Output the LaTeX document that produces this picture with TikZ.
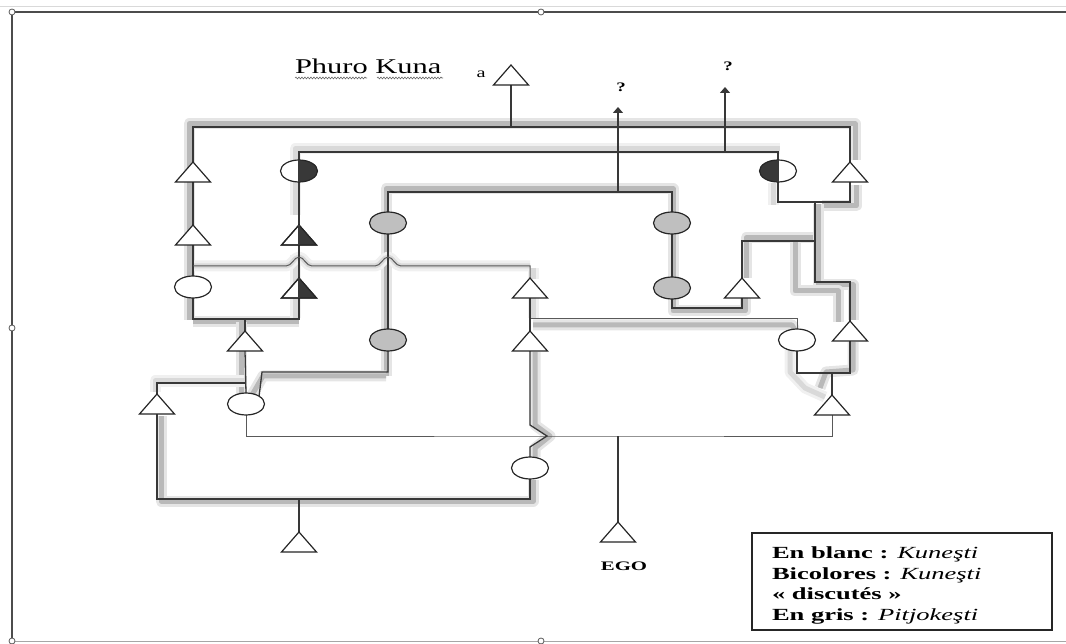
\documentclass[tikz,border=0pt]{standalone}
\usepackage{fontspec}
\setmainfont{Liberation Serif}
\usepackage{graphicx}
\usetikzlibrary{shapes.geometric,arrows.meta,decorations.pathmorphing}
\pgfdeclarelayer{hlayer}
\pgfdeclarelayer{llayer}
\pgfsetlayers{hlayer,llayer,main}
\newcommand\stxt[3][1.45]{\scalebox{#1}[1]{\fontsize{#2}{#2}\selectfont #3}}
\tikzset{
 ln/.style={draw=black!78, line width=1.3pt},
 lnthin/.style={draw=black!65, line width=1pt},
 hl/.style={preaction={draw=gray!20, line width=11pt, line join=round}, draw=gray!55, line width=5pt, line join=round},
 hlx/.style={preaction={draw=gray!12, line width=11pt, line join=round}, draw=gray!30, line width=5pt, line join=round},
 tri/.style={rectangle, minimum width=35pt, minimum height=20pt, inner sep=0pt, outer sep=0pt},
 triline/.style={draw=black!85, line width=1.2pt, fill=white, line join=miter},
 ell/.style={ellipse, draw=black!85, line width=1.2pt, fill=white, minimum width=37pt, minimum height=22pt, inner sep=0pt, outer sep=0pt},
 gell/.style={ell, fill=gray!50},
 bicR/.style={ell, path picture={\fill[black!78] (path picture bounding box.north) rectangle (path picture bounding box.south east);}},
 bicL/.style={ell, path picture={\fill[black!78] (path picture bounding box.north) rectangle (path picture bounding box.south west);}},
 arr/.style={ln, -{Triangle[length=6pt,width=10pt]}},
 lab/.style={inner sep=0pt, outer sep=0pt, anchor=base},
 frameline/.style={draw=black!70, line width=1.2pt},
 handle/.style={draw=black!65, line width=0.8pt, fill=white},
 squiggle/.style={decorate, decoration={snake, amplitude=0.9pt, segment length=3pt}, draw=black!60, line width=0.6pt},
}
\begin{document}
\begin{tikzpicture}[x=1pt,y=-1pt]
\useasboundingbox (0,0) rectangle (1066,644);
% frame
\draw[draw=black!15, line width=0.8pt] (0,6) -- (1066,6);
\draw[frameline] (12,12) -- (1066,12);
\draw[frameline] (12,12) -- (12,644);
\draw[draw=black!35, line width=0.8pt] (12,641) -- (1066,641);
\foreach \p in {(12,12),(541,12),(12,328),(12,641),(541,641)}
  \draw[handle] \p circle[radius=3pt];

% title and labels
\node[lab, anchor=base west] (title) at (295,74) {\stxt{21}{Phuro Kuna}};
\draw[squiggle] (295,78) -- (367,78);
\draw[squiggle] (377,78) -- (443,78);
\node[lab] (alab) at (481,78) {\stxt{14}{a}};
\node[lab] (q1lab) at (621,92) {\stxt{13}{\textbf{?}}};
\node[lab] (q2lab) at (728,71) {\stxt{13}{\textbf{?}}};
\node[lab] (ego) at (624,570) {\stxt[1.6]{13}{\textbf{EGO}}};

% legend
\node[draw=black!85, line width=1.3pt, minimum width=300pt, minimum height=97pt, inner sep=0pt] (legend) at (902,581.5) {};
\node[lab, anchor=base west] (leg1) at (772,558) {\stxt[1.56]{17}{\textbf{En blanc :} \textit{Kuneşti}}};
\node[lab, anchor=base west] (leg2) at (772,579) {\stxt[1.56]{17}{\textbf{Bicolores :} \textit{Kuneşti}}};
\node[lab, anchor=base west] (leg3) at (772,599) {\stxt[1.56]{17}{\textbf{« discutés »}}};
\node[lab, anchor=base west] (leg4) at (772,620) {\stxt[1.56]{17}{\textbf{En gris :} \textit{Pitjokeşti}}};

% individuals
\node[tri] (ta) at (511,75) {};
\node[tri] (tL1) at (193,172) {};
\node[tri] (tL2) at (193,235) {};
\node[ell] (eL) at (193,287) {};
\node[tri] (tB1) at (299,235) {};
\node[tri] (tB2) at (299,288) {};
\node[bicR] (cB1) at (299,171) {};
\node[bicL] (cB2) at (778,171) {};
\node[gell] (gE1) at (388,223) {};
\node[gell] (gE2) at (388,340) {};
\node[gell] (gE3) at (672,223) {};
\node[gell] (gE4) at (672,288) {};
\node[tri] (t742) at (742,288) {};
\node[tri] (tR1) at (850,172) {};
\node[tri] (tR2) at (850,331) {};
\node[ell] (eR) at (797,340) {};
\node[tri] (tR3) at (832,405) {};
\node[tri] (t530a) at (530,288) {};
\node[tri] (t530b) at (530,341) {};
\node[tri] (t245) at (245,341) {};
\node[tri] (t157) at (157,404) {};
\node[ell] (e246) at (246,404) {};
\node[ell] (e530) at (530,468) {};
\node[tri] (t299b) at (299,542) {};
\node[tri] (tEGO) at (618,532) {};

\foreach \n in {ta,tL1,tL2,t742,tR1,tR2,tR3,t530a,t530b,t245,t157,t299b,tEGO,tB1,tB2}
  \draw[triline] (\n.south west) -- (\n.south east) -- (\n.north) -- cycle;
\foreach \n in {tB1,tB2}{
  \fill[black!78] (\n.north) -- (\n.south east) -- (\n.south) -- cycle;
  \draw[triline, fill=none] (\n.south west) -- (\n.south east) -- (\n.north) -- cycle;
  \draw[ln] (\n.north) -- (\n.south);
}
\draw[ln] (cB1.north) -- (cB1.south);
\draw[ln] (cB2.north) -- (cB2.south);

% junctions
\coordinate (top) at (511,127);
\coordinate (b2) at (725,152);
\coordinate (b3) at (618,192);
\coordinate (q1) at (618,107);
\coordinate (q2) at (725,87);
\coordinate (j1) at (245,319);
\coordinate (k1) at (262,372);
\coordinate (k2) at (707,308);
\coordinate (j2) at (815,202);
\coordinate (j3) at (815,282);
\coordinate (j4) at (815,241);
\coordinate (j5) at (832,373);
\coordinate (j6) at (530,319);
\coordinate (j7) at (245,383);
\coordinate (j8) at (618,436);
\coordinate (j9) at (299,499);
\coordinate (w0) at (193,266);

% grey highlights
\begin{pgfonlayer}{hlayer}
\draw[hl] (189,320) -- (189,124) -- (855,124) -- (855,160);
\draw[hl] (856,185) -- (856,206) -- (822,206);
\draw[hl] (193,322) -- (299,322);
\draw[hl] (241,322) -- (241,395);
\draw[hlx] (245,381) -- (155,381) -- (155,392);
\draw[hl] (161,416) -- (161,501) -- (533,501) -- (533,480);
\draw[hl] (535,352) -- (535,425) -- (550,436) -- (535,448) -- (535,457);
\draw[hl] (386,376) -- (386,189) -- (673,189) -- (673,311) -- (745,311) -- (745,298);
\draw[hl] (386,376) -- (263,376) -- (252,395);
\draw[hl] (746,278) -- (746,238) -- (818,238);
\draw[hl] (818,204) -- (818,285) -- (853,285) -- (853,320);
\draw[hl] (795,240) -- (795,291) -- (838,291) -- (838,322);
\draw[hl] (533,325) -- (792,325) -- (795,330);
\draw[hl] (853,342) -- (853,370) -- (826,372) -- (820,388);
\draw[hlx] (295,215) -- (295,149) -- (780,149);
\draw[hlx] (295,255) -- (295,318);
\draw[hlx] (773,183) -- (773,205);
\draw[hlx] (533,268) -- (533,279);
\draw[hlx] (533,298) -- (533,318);
\draw[hlx] (790,350) -- (790,372) -- (805,388) -- (825,397);
\draw[hlx] (193,266) -- (286,266) .. controls (292,266) and (294,257) .. (299,257) .. controls (304,257) and (306,266) .. (312,266) -- (375,266) .. controls (381,266) and (383,257) .. (388,257) .. controls (393,257) and (395,266) .. (401,266) -- (530,266);
\end{pgfonlayer}

% connectors
\begin{pgfonlayer}{llayer}
\draw[ln] (tL1.north) |- (top) -| (tR1.north);
\draw[ln] (ta.south) -- (top);
\draw[ln] (tL1.south) -- (tL2.north);
\draw[ln] (tL2.south) -- (eL.north);
\draw[ln] (eL.south) |- (j1) -| (tB2.south);
\draw[ln] (cB1.north) |- (b2) -| (cB2.north);
\draw[ln] (cB1.south) -- (tB1.north);
\draw[ln] (tB1.south) -- (tB2.north);
\draw[arr] (b2) -- (q2);
\draw[ln] (gE1.north) |- (b3) -| (gE3.north);
\draw[arr] (b3) -- (q1);
\draw[ln] (gE1.south) -- (gE2.north);
\draw[ln] (gE2.south) |- (k1) -- (e246.north east);
\draw[ln] (gE3.south) -- (gE4.north);
\draw[ln] (gE4.south) |- (k2) -| (t742.south);
\draw[ln] (tR1.south) |- (j2) -| (cB2.south);
\draw[ln] (j2) -- (j3) -| (tR2.north);
\draw[ln] (t742.north) |- (j4);
\draw[ln] (tR2.south) |- (j5) -| (eR.south);
\draw[ln] (j5) -- (tR3.north);
\draw[lnthin] (eR.north) |- (j6);
\draw[ln] (t530a.south) -- (t530b.north);
\draw[lnthin] (w0) -- (286,266) .. controls (292,266) and (294,257) .. (299,257) .. controls (304,257) and (306,266) .. (312,266) -- (375,266) .. controls (381,266) and (383,257) .. (388,257) .. controls (393,257) and (395,266) .. (401,266) -- (530,266) -- (t530a.north);
\draw[ln] (t245.north) -- (j1);
\draw[ln] (t245.south) -- (e246.north);
\draw[ln] (j7) -| (t157.north);
\draw[lnthin] (e246.south) |- (j8) -| (tR3.south);
\draw[ln] (j8) -- (tEGO.north);
\draw[ln] (t530b.south) -- (530,425) -- (547,436) -- (530,447) -- (e530.north);
\draw[ln] (e530.south) |- (j9) -| (t157.south);
\draw[ln] (j9) -- (t299b.north);
\end{pgfonlayer}
\end{tikzpicture}
\end{document}
